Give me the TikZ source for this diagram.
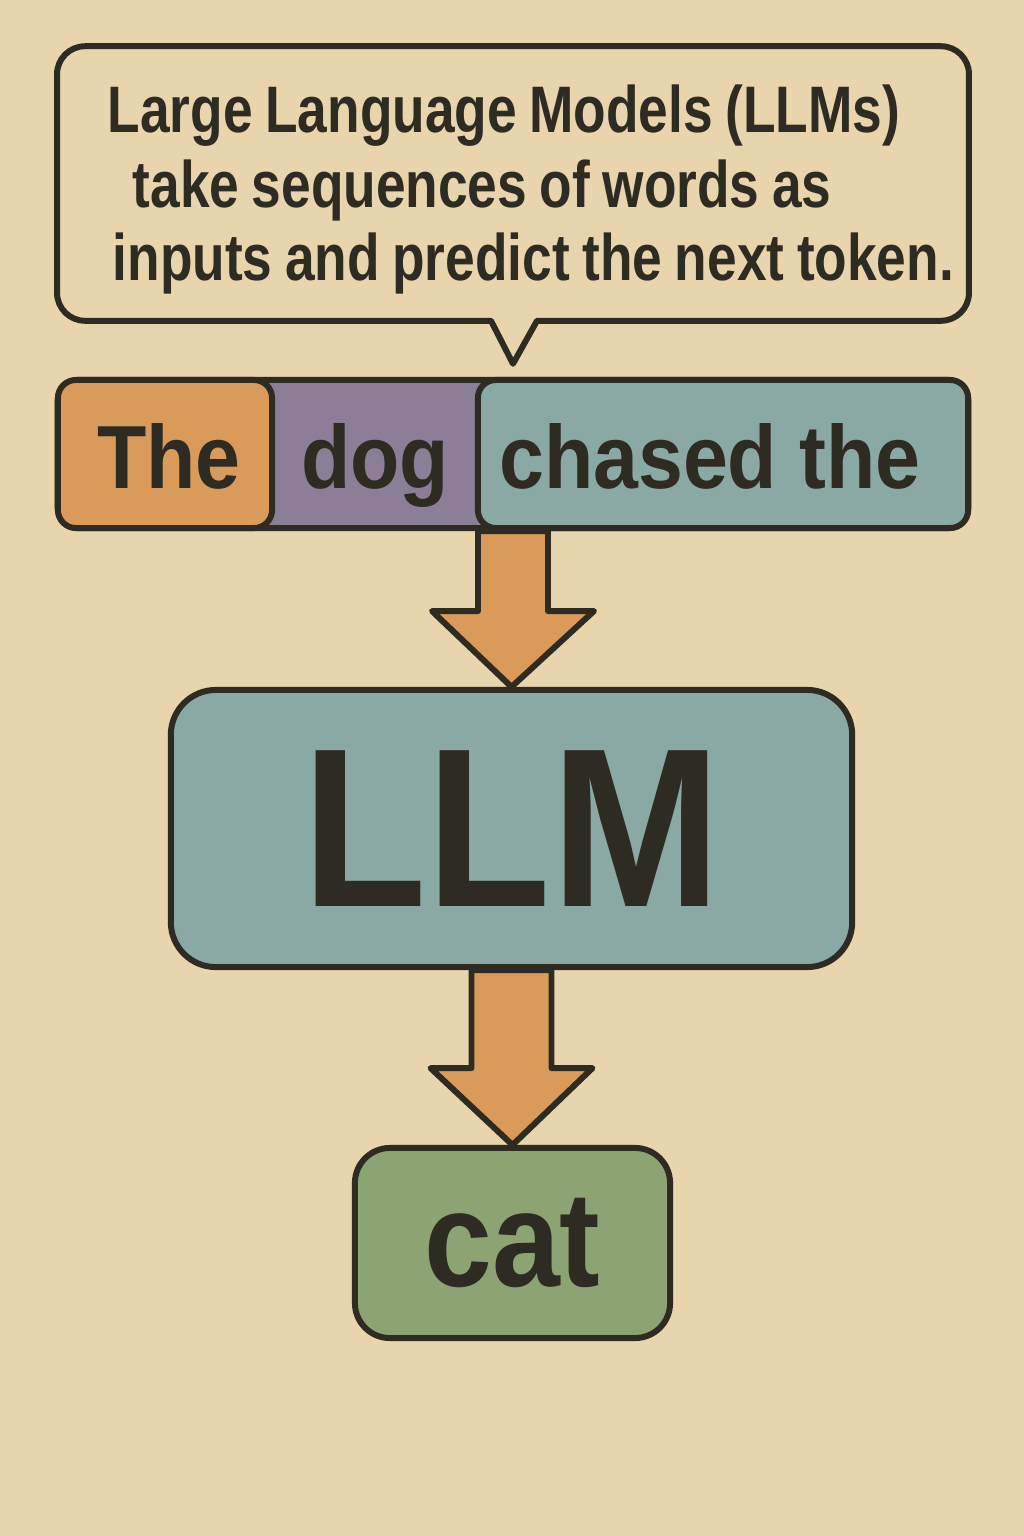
\documentclass[tikz,border=0pt]{standalone}
\usepackage{fontspec}
\setmainfont{Liberation Sans}
\newfontfamily\titlefont[FakeStretch=0.81, WordSpace=0.85]{Liberation Sans}
\newfontfamily\boxfont[FakeStretch=0.9]{Liberation Sans}
\usepackage{xcolor}
\usepackage{tikz}
\usetikzlibrary{positioning, calc}

\definecolor{paper}{HTML}{E8D4AD}
\definecolor{ink}{HTML}{2E2B23}
\definecolor{tokorange}{HTML}{D99A5A}
\definecolor{tokpurple}{HTML}{8C7E96}
\definecolor{tokteal}{HTML}{8AA8A4}
\definecolor{tokgreen}{HTML}{8CA473}

\begin{document}
\begin{tikzpicture}[x=0.01cm, y=-0.01cm,
        box/.style={draw=ink, line width=1.7pt, inner sep=0pt, text=ink},
        titleline/.style={anchor=base west, inner sep=0pt, text=ink,
            font=\titlefont\bfseries\fontsize{18.7}{22}\selectfont},
        word/.style={anchor=base, inner sep=0pt, text=ink,
            font=\boxfont\bfseries\fontsize{25.5}{30}\selectfont},
        blockarrow/.style={draw=ink, line width=1.7pt, fill=tokorange, line join=round}]
            \newcommand{\Shaft}{35}
            \newcommand{\Head}{81}

            \fill[paper] (0,0) rectangle (1024,1536);% Paper

            % Speech bubble
            \node[inner sep=0pt, minimum width=9.1cm, minimum height=2.73cm] (callout) at (513,183.5) {};
            \coordinate (tip) at ($(callout.south)+(0,43)$);
            \draw[ink, line width=1.7pt, line join=round] (tip) -- ($(callout.south)+(24,0)$) [rounded corners=0.28cm]
                -- (callout.south east) -- (callout.north east) -- (callout.north west) -- (callout.south west)
                [sharp corners] -- ($(callout.south)+(-22,0)$) -- cycle;

            \node[titleline] (line1) at (107,132) {Large Language Models (LLMs)};
            \node[titleline] (line2) at (132,207) {take sequences of words as};
            \node[titleline] (line3) at (112,280) {inputs and predict the next token.};

            % Token row
            \node[box, fill=tokpurple, rounded corners=0.2cm, minimum width=9.1cm, minimum height=1.48cm] (row) at (513,454) {};
            \node[box, fill=tokorange, rounded corners=0.18cm, minimum width=2.14cm, minimum height=1.48cm] (tokA) at (165,454) {};
            \node[box, fill=tokteal, rounded corners=0.18cm, minimum width=4.9cm, minimum height=1.48cm] (tokC) at (723,454) {};

            \node[word] (wThe) at (169,488) {The};
            \node[word] (wdog) at (375,488) {dog};
            \node[word] (wchased) at (710,488) {chased the};

            % Model and output
            \node[box, fill=tokteal, rounded corners=0.45cm, minimum width=6.81cm, minimum height=2.77cm,
                font=\boxfont\bfseries\fontsize{64.4}{70}\selectfont] (llm) at (511.5,828.5) {LLM};
            \node[box, fill=tokgreen, rounded corners=0.35cm, minimum width=3.15cm, minimum height=1.9cm,
                font=\boxfont\bfseries\fontsize{38.5}{44}\selectfont] (cat) at (512.5,1243) {cat};

            \draw[blockarrow] ($(row.south)+(-\Shaft,0)$) -- ($(row.south)+(\Shaft,0)$) -- ($(row.south)+(\Shaft,80)$)
                -- ($(row.south)+(\Head,80)$) -- (llm.north) -- ($(row.south)+(-\Head,80)$) -- ($(row.south)+(-\Shaft,80)$) -- cycle;
            \draw[blockarrow] ($(llm.south)+(-40,0)$) -- ($(llm.south)+(40,0)$) -- ($(llm.south)+(40,98)$)
                -- ($(llm.south)+(\Head,98)$) -- (cat.north) -- ($(llm.south)+(-\Head,98)$) -- ($(llm.south)+(-40,98)$) -- cycle;
        \end{tikzpicture}
\end{document}
